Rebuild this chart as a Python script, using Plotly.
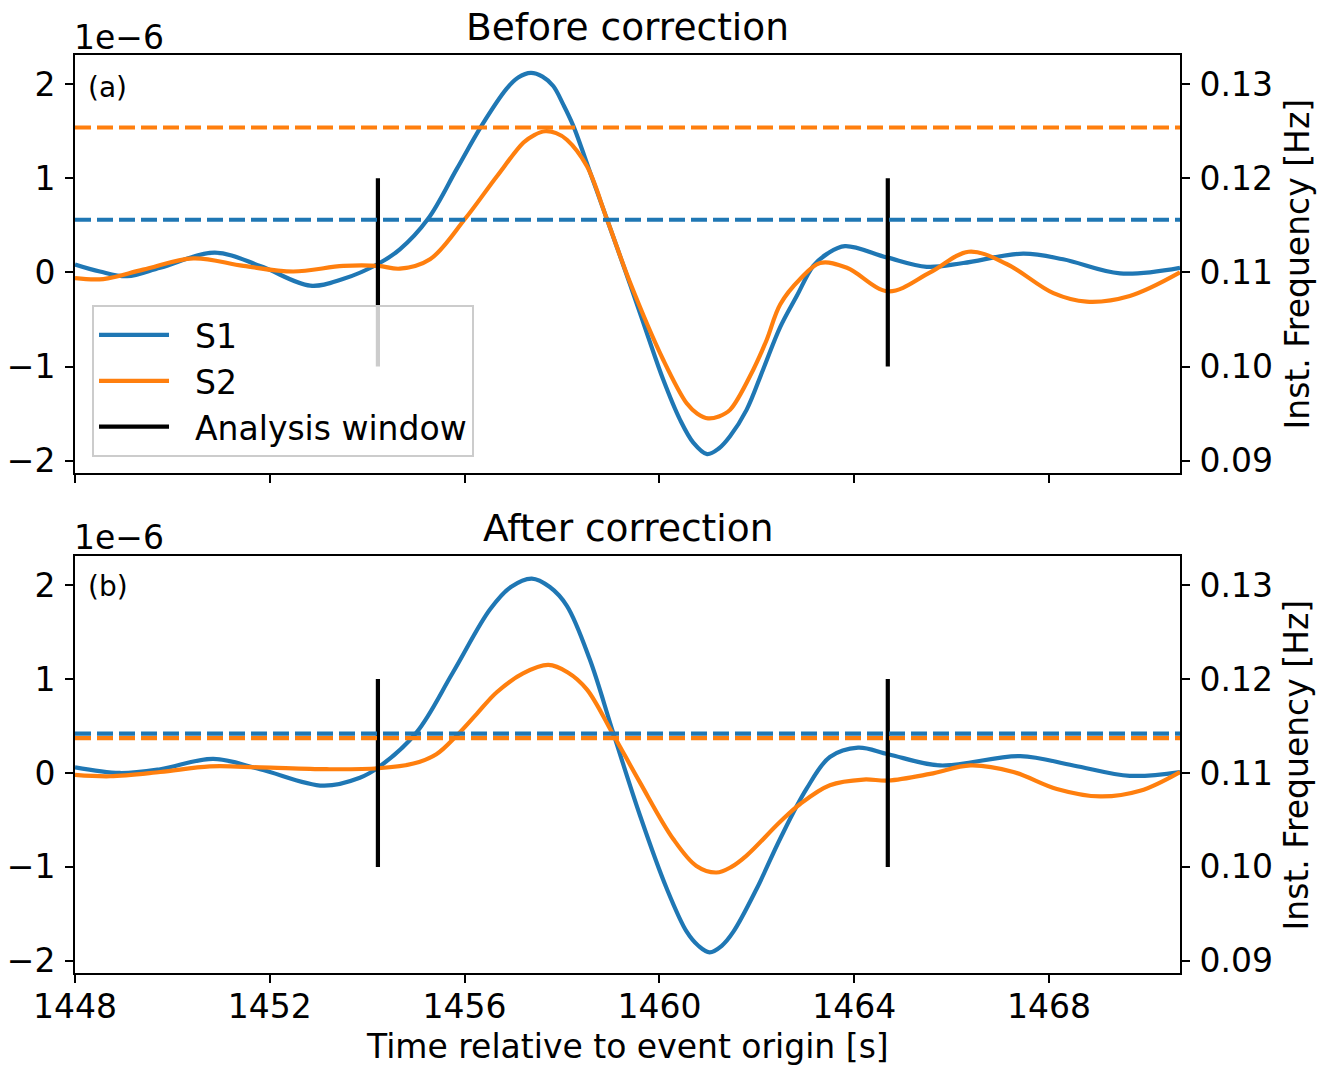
import plotly.graph_objects as go

# ---------------- data ----------------
X_RANGE = [1448.0, 1470.69]
X_TICKS = [1448, 1452, 1456, 1460, 1464, 1468]
Y_RANGE = [-2.13, 2.31]           # amplitude in units of 1e-6
Y_TICKS = [-2, -1, 0, 1, 2]
Y_TICK_TEXT = ["\u22122", "\u22121", "0", "1", "2"]
F_TICKS = [0.09, 0.10, 0.11, 0.12, 0.13]
F_TICK_TEXT = ["0.09", "0.10", "0.11", "0.12", "0.13"]
F_RANGE = [0.0887, 0.1331]        # instantaneous frequency [Hz]

WINDOW_T = [1454.22, 1464.69]
WINDOW_Y = [-1.0, 1.0]

# Before correction
t_before_s1 = [1448.00, 1448.51, 1449.07, 1449.75, 1450.87, 1451.80, 1452.83, 1453.50, 1454.22,
               1454.67, 1455.25, 1455.84, 1456.35, 1456.86, 1457.10, 1457.36, 1457.60, 1457.82,
               1458.03, 1458.23, 1458.58, 1458.92, 1459.40, 1459.74, 1460.08, 1460.42, 1460.70,
               1460.98, 1461.22, 1461.45, 1461.79, 1462.13, 1462.48, 1462.82, 1463.16, 1463.45,
               1463.81, 1464.67, 1465.49, 1466.24, 1467.47, 1468.29, 1469.46, 1470.69]
v_before_s1 = [0.085, 0.01, -0.04, 0.05, 0.21, 0.07, -0.14, -0.07, 0.09,
               0.245, 0.57, 1.10, 1.56, 1.95, 2.07, 2.12, 2.08, 1.98,
               1.78, 1.56, 1.06, 0.57, -0.13, -0.64, -1.14, -1.56, -1.81,
               -1.93, -1.87, -1.74, -1.46, -1.03, -0.58, -0.25, 0.07, 0.20,
               0.28, 0.16, 0.06, 0.10, 0.20, 0.14, -0.01, 0.05]
t_before_s2 = [1448.00, 1448.58, 1449.40, 1450.43, 1451.46, 1452.48, 1453.51, 1454.23, 1454.67,
               1455.29, 1456.01, 1456.66, 1457.21, 1457.43, 1457.65, 1457.88, 1458.10, 1458.51,
               1458.92, 1459.40, 1460.08, 1460.56, 1460.78, 1461.00, 1461.22, 1461.45, 1461.93,
               1462.20, 1462.48, 1462.89, 1463.30, 1463.85, 1464.70, 1465.56, 1466.35, 1467.13,
               1468.09, 1468.77, 1469.66, 1470.69]
v_before_s2 = [-0.06, -0.07, 0.03, 0.15, 0.07, 0.01, 0.07, 0.07, 0.04,
               0.14, 0.57, 1.02, 1.38, 1.46, 1.50, 1.48, 1.41, 1.13,
               0.57, -0.11, -0.93, -1.39, -1.50, -1.55, -1.53, -1.46, -1.03,
               -0.72, -0.34, -0.07, 0.10, 0.05, -0.20, 0.00, 0.22, 0.09,
               -0.22, -0.31, -0.25, 0.00]
freq_before_s1 = 0.1156
freq_before_s2 = 0.1254

# After correction
t_after_s1 = [1448.00, 1448.92, 1449.75, 1450.84, 1451.80, 1453.10, 1453.85, 1454.23, 1455.01,
              1455.76, 1456.52, 1456.95, 1457.38, 1457.75, 1458.10, 1458.57, 1459.05, 1459.60,
              1460.15, 1460.56, 1460.80, 1461.03, 1461.28, 1461.52, 1462.00, 1462.48, 1463.02,
              1463.50, 1464.08, 1464.70, 1465.76, 1467.41, 1468.50, 1469.66, 1470.69]
v_after_s1 = [0.06, 0.00, 0.04, 0.15, 0.04, -0.135, -0.05, 0.06, 0.43,
              1.07, 1.74, 1.98, 2.07, 1.98, 1.78, 1.21, 0.43, -0.45,
              -1.23, -1.69, -1.84, -1.91, -1.84, -1.69, -1.23, -0.70, -0.17,
              0.17, 0.27, 0.20, 0.08, 0.18, 0.08, -0.03, 0.01]
t_after_s2 = [1448.00, 1448.72, 1449.75, 1450.77, 1451.80, 1453.17, 1454.23, 1454.95, 1455.42,
              1455.84, 1456.25, 1456.66, 1457.20, 1457.72, 1458.12, 1458.51, 1459.05, 1459.60,
              1460.28, 1460.76, 1461.17, 1461.48, 1461.79, 1462.48, 1462.89, 1463.50, 1464.19,
              1464.70, 1465.56, 1466.39, 1467.27, 1468.16, 1469.05, 1469.87, 1470.69]
v_after_s2 = [-0.02, -0.035, 0.01, 0.07, 0.06, 0.04, 0.05, 0.10, 0.20,
              0.40, 0.63, 0.86, 1.06, 1.15, 1.07, 0.89, 0.41, -0.10,
              -0.70, -0.99, -1.06, -1.00, -0.88, -0.52, -0.33, -0.13, -0.07,
              -0.08, -0.01, 0.08, 0.01, -0.17, -0.25, -0.19, 0.01]
freq_after_s1 = 0.1142
freq_after_s2 = 0.1137

# ---------------- styling ----------------
BLUE = "#1f77b4"
ORANGE = "#ff7f0e"
FONT = "DejaVu Sans"
TICK_PX = 33
LW = 4.2
SMOOTH = 1.0
PAD = "\u00a0\u00a0"   # gap between legend line sample and label

fig = go.Figure()

panels = [
    dict(xa="x", ya="y", yf="y2", ts1=t_before_s1, vs1=v_before_s1, ts2=t_before_s2, vs2=v_before_s2,
         f1=freq_before_s1, f2=freq_before_s2, legend=True),
    dict(xa="x2", ya="y3", yf="y4", ts1=t_after_s1, vs1=v_after_s1, ts2=t_after_s2, vs2=v_after_s2,
         f1=freq_after_s1, f2=freq_after_s2, legend=False),
]

for p in panels:
    fig.add_trace(go.Scatter(x=p["ts1"], y=p["vs1"], mode="lines", name=PAD + "S1",
                             line=dict(color=BLUE, width=LW, shape="spline", smoothing=SMOOTH),
                             xaxis=p["xa"], yaxis=p["ya"], showlegend=p["legend"], legendrank=1))
    fig.add_trace(go.Scatter(x=p["ts2"], y=p["vs2"], mode="lines", name=PAD + "S2",
                             line=dict(color=ORANGE, width=LW, shape="spline", smoothing=SMOOTH),
                             xaxis=p["xa"], yaxis=p["ya"], showlegend=p["legend"], legendrank=2))
    for i, tw in enumerate(WINDOW_T):
        fig.add_trace(go.Scatter(x=[tw, tw], y=WINDOW_Y, mode="lines", name=PAD + "Analysis window",
                                 line=dict(color="black", width=LW),
                                 xaxis=p["xa"], yaxis=p["ya"],
                                 showlegend=(p["legend"] and i == 0), legendrank=3))
    fig.add_trace(go.Scatter(x=X_RANGE, y=[p["f1"], p["f1"]], mode="lines", showlegend=False,
                             line=dict(color=BLUE, width=LW, dash="16px,6px"),
                             xaxis=p["xa"], yaxis=p["yf"]))
    fig.add_trace(go.Scatter(x=X_RANGE, y=[p["f2"], p["f2"]], mode="lines", showlegend=False,
                             line=dict(color=ORANGE, width=LW, dash="16px,6px"),
                             xaxis=p["xa"], yaxis=p["yf"]))

axis_common = dict(showgrid=False, zeroline=False, showline=True, linecolor="black", linewidth=2,
                   ticks="outside", ticklen=8, tickwidth=2, tickcolor="black", automargin=False,
                   tickfont=dict(family=FONT, size=TICK_PX, color="black"))

TOP_DOM = [0.5447, 1.0]
BOT_DOM = [0.0, 0.4542]

fig.update_layout(
    template="none",
    width=1327, height=1066, autosize=False,
    margin=dict(l=75, r=147, t=55, b=93, pad=0),
    paper_bgcolor="white", plot_bgcolor="white",
    font=dict(family=FONT, size=TICK_PX, color="black"),
    xaxis=dict(**axis_common, domain=[0, 1], anchor="y", range=X_RANGE, tickvals=X_TICKS,
               showticklabels=False, mirror=True, matches="x2"),
    xaxis2=dict(**axis_common, domain=[0, 1], anchor="y3", range=X_RANGE, tickvals=X_TICKS,
                ticktext=[str(v) for v in X_TICKS], mirror=True, ticklabelstandoff=-5),
    yaxis=dict(**axis_common, domain=TOP_DOM, anchor="x", range=Y_RANGE,
               tickvals=Y_TICKS, ticktext=Y_TICK_TEXT, ticklabelstandoff=3),
    yaxis2=dict(**axis_common, overlaying="y", side="right", anchor="x", range=F_RANGE,
                tickvals=F_TICKS, ticktext=F_TICK_TEXT, ticklabelstandoff=3),
    yaxis3=dict(**axis_common, domain=BOT_DOM, anchor="x2", range=Y_RANGE,
                tickvals=Y_TICKS, ticktext=Y_TICK_TEXT, ticklabelstandoff=3),
    yaxis4=dict(**axis_common, overlaying="y3", side="right", anchor="x2", range=F_RANGE,
                tickvals=F_TICKS, ticktext=F_TICK_TEXT, ticklabelstandoff=3),
    legend=dict(x=0.0154, y=0.7277, xanchor="left", yanchor="top",
                bgcolor="rgba(255,255,255,0.8)", bordercolor="#cccccc", borderwidth=2,
                font=dict(family=FONT, size=TICK_PX, color="black"),
                itemwidth=70, traceorder="normal"),
    showlegend=True,
)

def ann(text, x, y, size, xanchor="center", yanchor="middle", angle=0):
    fig.add_annotation(text=text, x=x, y=y, xref="paper", yref="paper", showarrow=False,
                       xanchor=xanchor, yanchor=yanchor, textangle=angle,
                       font=dict(family=FONT, size=size, color="black"))

ann("Before correction", 0.5, 1.0305, 37.5)
ann("After correction", 0.5, 0.4847, 37.5)
ann("1e\u22126", -0.0027, 1.0196, TICK_PX, xanchor="left")
ann("1e\u22126", -0.0027, 0.4739, TICK_PX, xanchor="left")
ann("(a)", 0.0100, 0.9651, 28, xanchor="left")
ann("(b)", 0.0100, 0.4205, 28, xanchor="left")
ann("Time relative to event origin [s]", 0.5, -0.0806, TICK_PX)
ann("Inst. Frequency [Hz]", 1.1063, 0.7723, TICK_PX, angle=-90)
ann("Inst. Frequency [Hz]", 1.1063, 0.2266, TICK_PX, angle=-90)

fig.write_html("out.html", config={"displayModeBar": False})
